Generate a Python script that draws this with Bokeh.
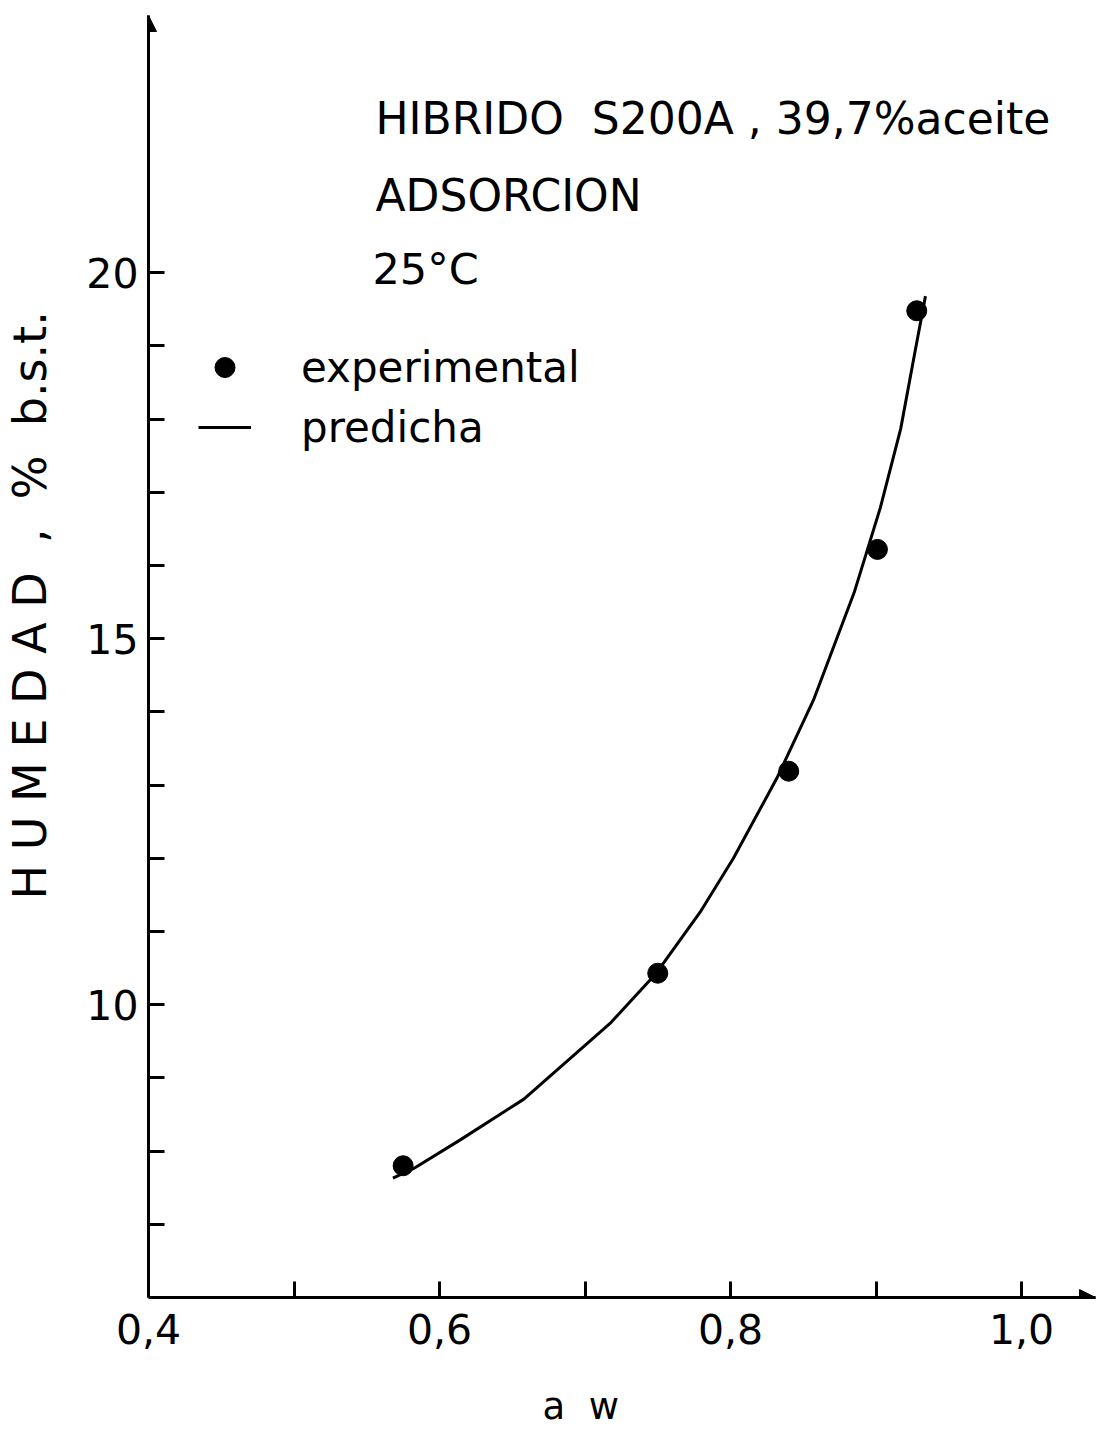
from bokeh.plotting import figure
from bokeh.models import (FixedTicker, Label, Arrow, NormalHead, Legend, LegendItem, Range1d)
from bokeh.embed import file_html
from bokeh.resources import INLINE

# ---- data ----
aw_exp = [0.575, 0.750, 0.840, 0.901, 0.928]
hum_exp = [7.80, 10.43, 13.19, 16.22, 19.48]

aw_pred = [0.568, 0.582, 0.614, 0.658, 0.718, 0.749, 0.779, 0.802, 0.832,
           0.857, 0.885, 0.894, 0.903, 0.917, 0.927, 0.934]
hum_pred = [7.63, 7.76, 8.15, 8.71, 9.76, 10.43, 11.26, 12.00, 13.10,
            14.16, 15.63, 16.21, 16.79, 17.87, 18.94, 19.68]

x_major = [0.4, 0.6, 0.8, 1.0]
x_minor = [0.5, 0.7, 0.9]
x_labels = ["0,4", "0,6", "0,8", "1,0"]
y_major = [10, 15, 20]
y_minor = [7, 8, 9, 11, 12, 13, 14, 16, 17, 18, 19]
y_labels = ["10", "15", "20"]

title_lines = ["HIBRIDO\u00a0 S200A , 39,7%aceite", "ADSORCION", "25°C"]
y_title = "\u00a0" * 7 + "H U M E D A D\u00a0 ,\u00a0 %\u00a0 b.s.t."
x_title = "a\u00a0\u00a0w" + "\u00a0" * 7

FONT = "DejaVu Sans"

W, H = 1101, 1432
AX_L, AX_B, TOP, RIGHT = 148, 1297, 15, 6   # frame edges (axes) in pixels
px_x = 1455.0   # pixels per unit of a_w
px_y = 73.2     # pixels per unit of humidity
x0, y0 = 0.4, 6.0
x1 = x0 + (W - RIGHT - AX_L) / px_x
y1 = y0 + (AX_B - TOP) / px_y

p = figure(width=W, height=H, output_backend="svg", toolbar_location=None,
           x_range=Range1d(x0, x1), y_range=Range1d(y0, y1),
           min_border_left=AX_L, min_border_bottom=H - AX_B,
           min_border_top=TOP, min_border_right=RIGHT)
p.outline_line_color = None
p.xgrid.visible = False
p.ygrid.visible = False
p.background_fill_color = "white"
p.border_fill_color = "white"

for ax in (p.xaxis[0], p.yaxis[0]):
    ax.axis_line_width = 3
    ax.axis_line_color = "black"
    ax.major_tick_line_width = 3
    ax.minor_tick_line_width = 3
    ax.major_tick_in = 16
    ax.major_tick_out = 0
    ax.minor_tick_in = 16
    ax.minor_tick_out = 0
    ax.major_label_text_font = FONT
    ax.major_label_text_font_size = "41px"
    ax.major_label_text_color = "black"
    ax.axis_label_text_font = FONT
    ax.axis_label_text_font_style = "normal"
    ax.axis_label_text_color = "black"

xa = p.xaxis[0]
xa.ticker = FixedTicker(ticks=x_major, minor_ticks=x_minor)
xa.major_label_overrides = dict(zip(x_major, x_labels))
xa.major_label_standoff = 16
xa.axis_label = x_title
xa.axis_label_text_font_size = "37px"
xa.axis_label_standoff = 38

ya = p.yaxis[0]
ya.ticker = FixedTicker(ticks=y_major, minor_ticks=y_minor)
ya.major_label_overrides = dict(zip(y_major, y_labels))
ya.major_label_standoff = 10
ya.axis_label = y_title
ya.axis_label_text_font_size = "46px"
ya.axis_label_standoff = 26

# axis arrowheads
p.add_layout(Arrow(end=NormalHead(size=16, fill_color="black", line_color="black"),
                   x_start=x1 - 0.02, y_start=y0, x_end=x1, y_end=y0,
                   line_width=3, line_color="black"))
p.add_layout(Arrow(end=NormalHead(size=16, fill_color="black", line_color="black"),
                   x_start=x0, y_start=y1 - 0.5, x_end=x0, y_end=y1,
                   line_width=3, line_color="black"))

r_line = p.line(aw_pred, hum_pred, line_width=3, line_color="black")
r_pts = p.scatter(aw_exp, hum_exp, size=20, marker="circle",
                  fill_color="black", line_color="black")

legend = Legend(items=[LegendItem(label="experimental", renderers=[r_pts]),
                       LegendItem(label="predicha", renderers=[r_line])],
                location=(50, AX_B - 452), padding=0, margin=0, spacing=10,
                glyph_height=50, glyph_width=53, label_height=50,
                label_standoff=50, label_text_font=FONT,
                label_text_font_size="42px", label_text_color="black",
                border_line_color=None, background_fill_alpha=0)
p.add_layout(legend)


def dx(px):
    return x0 + (px - AX_L) / px_x


def dy(py):
    return y0 + (AX_B - py) / px_y


# annotation texts inside the plotting area
for txt, (lx, ly), fs in zip(title_lines, [(375, 118), (375, 195), (372, 268)],
                             ["44px", "44px", "43px"]):
    p.add_layout(Label(x=dx(lx), y=dy(ly), text=txt, text_font=FONT,
                       text_font_size=fs, text_color="black",
                       text_baseline="alphabetic", text_align="left"))

open("out.html", "w").write(file_html(p, INLINE))
